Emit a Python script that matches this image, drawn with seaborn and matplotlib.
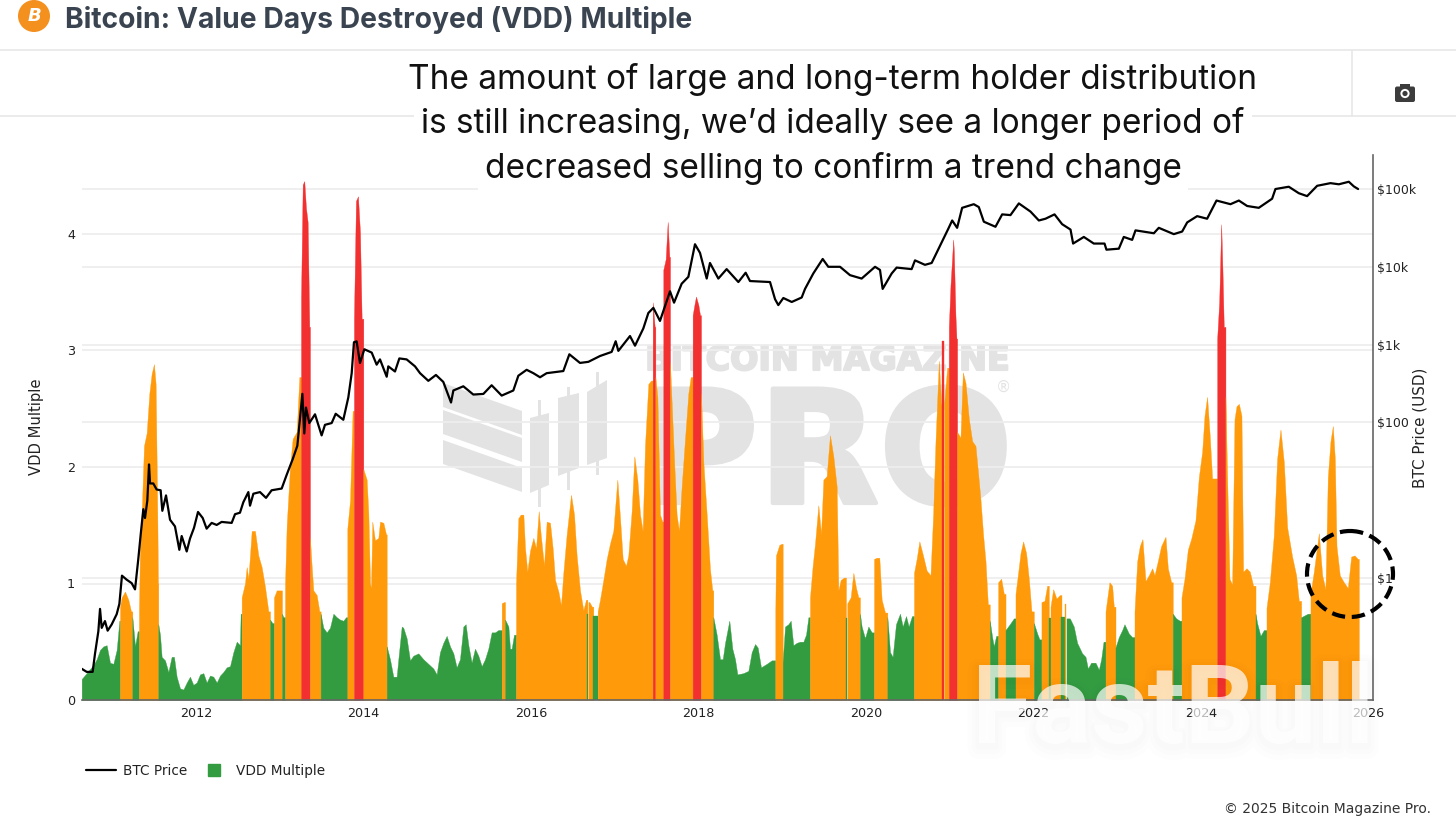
import numpy as np
import seaborn as sns
import matplotlib
matplotlib.use("Agg")
import matplotlib.pyplot as plt
import matplotlib.patheffects as pe
from matplotlib.lines import Line2D
from matplotlib.patches import Circle, Ellipse, Polygon, Rectangle, FancyBboxPatch

# ---------- data ----------
vdd_years = [
 2010.635,2010.774,2010.814,2010.854,2010.894,2010.933,2010.973,2011.013,2011.053,2011.085,
 2011.093,2011.112,2011.152,2011.192,2011.224,2011.240,2011.272,2011.303,2011.319,2011.331,
 2011.351,2011.379,2011.411,2011.443,2011.471,2011.498,2011.518,2011.538,2011.546,2011.550,
 2011.570,2011.590,2011.630,2011.670,2011.709,2011.737,2011.769,2011.809,2011.849,2011.889,
 2011.928,2011.968,2012.008,2012.048,2012.088,2012.127,2012.167,2012.207,2012.247,2012.287,
 2012.326,2012.366,2012.406,2012.446,2012.486,2012.525,2012.533,2012.545,2012.585,2012.605,
 2012.625,2012.665,2012.704,2012.744,2012.784,2012.824,2012.864,2012.884,2012.911,2012.931,
 2012.963,2013.003,2013.027,2013.043,2013.063,2013.083,2013.102,2013.122,2013.154,2013.202,
 2013.234,2013.254,2013.274,2013.293,2013.313,2013.333,2013.353,2013.361,2013.381,2013.401,
 2013.441,2013.473,2013.488,2013.520,2013.560,2013.600,2013.640,2013.680,2013.719,2013.759,
 2013.791,2013.807,2013.839,2013.870,2013.886,2013.910,2013.934,2013.958,2013.978,2013.998,
 2014.038,2014.058,2014.078,2014.090,2014.105,2014.137,2014.177,2014.197,2014.237,2014.269,
 2014.277,2014.316,2014.356,2014.396,2014.416,2014.456,2014.475,2014.515,2014.555,2014.595,
 2014.655,2014.714,2014.774,2014.834,2014.873,2014.913,2014.953,2014.993,2015.033,2015.073,
 2015.112,2015.152,2015.192,2015.220,2015.252,2015.291,2015.331,2015.371,2015.411,2015.451,
 2015.490,2015.530,2015.570,2015.610,
 2015.650,2015.678,2015.690,2015.730,2015.749,2015.769,2015.797,2015.821,2015.849,2015.877,
 2015.909,2015.929,2015.956,2015.988,2016.028,2016.060,2016.092,2016.116,2016.155,2016.187,
 2016.227,2016.259,2016.287,2016.327,2016.358,2016.386,2016.426,2016.478,2016.514,2016.545,
 2016.585,2016.625,2016.657,2016.673,2016.685,2016.697,2016.728,2016.744,2016.784,2016.796,
 2016.824,2016.864,2016.904,2016.943,2016.983,2017.031,2017.063,2017.095,2017.134,2017.162,
 2017.202,2017.234,2017.270,2017.302,2017.333,2017.361,2017.401,2017.433,2017.453,2017.477,
 2017.485,2017.509,2017.540,2017.568,2017.580,2017.608,2017.632,2017.652,2017.660,2017.680,
 2017.708,2017.739,2017.767,2017.799,2017.839,2017.879,2017.907,2017.930,2017.954,2017.970,
 2017.998,2018.018,2018.030,2018.058,2018.098,2018.137,2018.165,2018.177,2018.217,2018.257,
 2018.289,2018.317,2018.368,2018.404,2018.436,2018.464,2018.535,2018.595,2018.635,2018.675,
 2018.707,2018.746,2018.814,2018.874,2018.902,2018.917,2018.925,2018.965,2018.993,2019.005,
 2019.033,2019.073,2019.101,2019.132,2019.172,2019.212,2019.252,2019.284,2019.312,2019.331,
 2019.363,2019.391,2019.431,2019.463,2019.491,2019.530,2019.570,2019.610,2019.650,2019.670,
 2019.698,2019.737,2019.761,2019.777,2019.817,2019.849,2019.881,2019.909,2019.928,2019.948,
 2019.988,2020.028,2020.068,2020.096,2020.127,2020.159,2020.187,2020.227,2020.255,2020.287,
 2020.318,2020.358,2020.406,2020.438,2020.478,2020.509,2020.549,2020.573,2020.605,2020.637,
 2020.677,2020.724,2020.770,
 2020.802,2020.830,2020.870,2020.897,2020.913,2020.933,2020.969,2020.989,2021.009,2021.029,
 2021.041,2021.049,2021.068,2021.080,2021.088,2021.128,2021.156,2021.188,2021.228,2021.268,
 2021.307,2021.339,2021.367,2021.399,2021.427,2021.455,2021.478,2021.506,2021.526,2021.554,
 2021.578,2021.614,2021.646,2021.666,2021.717,2021.765,2021.785,2021.813,2021.845,2021.876,
 2021.912,2021.944,2021.976,2022.004,2022.044,2022.071,2022.095,2022.131,2022.163,2022.183,
 2022.203,2022.235,2022.274,2022.314,2022.334,2022.374,2022.394,2022.434,2022.481,2022.521,
 2022.581,2022.621,2022.649,2022.688,2022.740,2022.780,2022.808,2022.836,2022.860,2022.907,
 2022.939,2022.959,2022.979,2023.019,2023.059,2023.086,2023.138,2023.178,2023.206,2023.238,
 2023.269,2023.301,2023.337,2023.377,2023.417,2023.445,2023.484,2023.524,2023.576,2023.604,
 2023.644,2023.663,2023.703,2023.747,2023.767,2023.803,2023.843,2023.882,2023.934,2023.974,
 2024.014,2024.042,2024.073,2024.105,2024.133,2024.173,2024.193,2024.217,2024.241,2024.256,
 2024.272,2024.292,2024.312,2024.340,2024.372,2024.400,2024.424,2024.452,2024.483,2024.503,
 2024.543,2024.583,2024.623,2024.651,2024.670,2024.710,2024.750,2024.782,2024.822,2024.869,
 2024.909,2024.949,2024.989,2025.029,2025.088,2025.136,2025.168,2025.196,2025.248,2025.275,
 2025.307,2025.347,2025.407,2025.447,2025.486,2025.514,2025.546,2025.574,2025.598,2025.618,
 2025.657,2025.705,2025.753,2025.793,2025.833,2025.872,
]
vdd_values = [
 .18,.30,.35,.43,.46,.47,.32,.31,.43,.68,
 .80,.88,.93,.86,.76,.71,.46,.59,.77,1.30,
 1.60,2.18,2.29,2.63,2.80,2.88,2.71,1.60,1.00,.65,
 .56,.37,.34,.24,.37,.37,.20,.10,.09,.15,
 .20,.13,.15,.22,.23,.15,.21,.20,.15,.21,
 .24,.28,.29,.41,.50,.47,.74,.88,1.00,1.14,
 1.04,1.45,1.45,1.24,1.14,.97,.76,.69,.66,.88,
 .94,.94,.74,.71,1.00,1.50,1.74,2.00,2.24,2.30,
 2.77,3.45,4.42,4.45,4.22,4.10,3.20,1.39,1.15,.94,
 .90,.76,.74,.62,.58,.62,.74,.71,.69,.68,
 .71,1.47,1.71,2.48,3.27,4.28,4.32,4.01,3.27,1.98,
 1.89,1.60,1.00,.96,1.53,1.37,1.39,1.53,1.52,1.42,
 .46,.35,.20,.20,.35,.63,.62,.53,.34,.38,
 .40,.35,.31,.27,.22,.41,.49,.55,.46,.40,
 .28,.35,.63,.65,.47,.32,.44,.38,.29,.35,
 .44,.58,.58,.60,
 .83,.84,.69,.63,.44,.44,.56,1.00,1.56,1.59,
 1.59,1.30,1.10,1.28,1.39,1.30,1.62,1.42,1.15,1.53,
 1.52,1.30,1.03,.93,.81,1.09,1.42,1.76,1.59,1.24,
 .94,.77,.86,.74,.84,.84,.80,.72,.72,.76,
 .86,1.03,1.21,1.34,1.45,1.89,1.56,1.21,1.15,1.24,
 1.62,2.09,1.89,1.59,1.45,2.18,2.71,2.74,3.41,3.20,
 2.77,2.60,1.59,1.53,3.69,3.78,4.10,3.80,2.89,2.54,
 2.06,1.59,1.45,1.83,2.24,2.63,2.77,3.30,3.40,3.46,
 3.39,3.30,2.63,2.04,1.59,1.12,.94,.71,.56,.35,
 .35,.49,.68,.44,.35,.22,.23,.25,.41,.48,
 .45,.28,.31,.34,.34,.76,1.24,1.33,1.34,.32,
 .63,.65,.68,.47,.49,.50,.50,.56,.71,.88,
 1.15,1.34,1.67,1.42,1.89,1.92,2.27,2.09,1.83,.94,
 1.03,1.05,.70,.83,.88,1.09,.96,.88,.74,.63,
 .53,.63,.58,1.21,1.22,1.22,.86,.75,.71,.41,
 .37,.65,.74,.63,.72,.63,.72,1.09,1.21,1.36,
 1.25,1.11,1.07,
 1.60,2.22,2.91,2.54,3.08,2.54,2.85,3.20,3.56,3.80,
 3.95,3.85,3.30,3.10,2.30,2.25,2.81,2.72,2.41,2.22,
 2.18,1.94,1.72,1.41,1.19,.82,.68,.54,.46,.55,
 1.01,1.04,.91,.60,.65,.70,.91,1.07,1.26,1.36,
 1.26,1.04,.76,.66,.57,.52,.84,.85,.98,.70,
 .80,.95,.87,.90,.71,.82,.70,.70,.63,.49,
 .40,.37,.27,.32,.32,.26,.35,.50,.76,1.01,
 .98,.80,.45,.54,.60,.65,.57,.54,.76,1.19,
 1.32,1.38,1.02,1.07,1.13,1.07,1.19,1.32,1.40,1.13,
 1.01,.74,.70,.68,.88,1.04,1.29,1.38,1.54,1.91,
 2.13,2.44,2.60,2.26,1.90,1.90,3.10,3.41,4.08,3.70,
 3.20,2.60,1.91,1.04,.99,2.41,2.52,2.54,2.44,1.10,
 1.13,1.10,.98,.74,.66,.55,.60,.79,1.01,1.41,
 2.07,2.32,2.04,1.48,1.23,1.07,.85,.71,.73,.74,
 .91,1.10,1.43,1.07,.95,1.91,2.22,2.35,2.07,1.32,
 1.07,1.01,.96,1.23,1.24,1.21,
]
vdd_end_year = 2025.885
zone_limits = [0.75, 2.95]

price_years = [
 2010.635,2010.695,2010.766,2010.794,2010.834,2010.854,2010.874,2010.913,2010.945,2010.993,
 2011.053,2011.085,2011.116,2011.172,2011.232,2011.272,2011.311,2011.339,2011.371,2011.391,
 2011.419,2011.439,2011.451,2011.490,2011.530,2011.578,2011.598,2011.642,2011.690,2011.749,
 2011.801,2011.829,2011.889,2011.928,2011.976,2012.024,2012.080,2012.127,2012.187,2012.247,
 2012.306,2012.426,2012.466,2012.525,2012.565,2012.625,2012.645,2012.685,2012.764,2012.836,
 2012.903,2013.023,2013.083,2013.154,2013.210,2013.242,2013.270,2013.293,2013.313,2013.353,
 2013.421,2013.500,2013.540,2013.620,2013.668,2013.759,2013.819,2013.859,2013.886,2013.918,
 2013.958,2014.010,2014.098,2014.157,2014.197,2014.277,2014.296,2014.376,2014.428,2014.515,
 2014.615,2014.675,2014.774,2014.865,2014.953,2015.045,2015.073,2015.192,2015.311,2015.431,
 2015.530,2015.650,2015.789,2015.849,
 2015.948,2016.028,2016.108,2016.187,2016.386,2016.458,2016.585,2016.685,2016.824,2016.963,
 2017.011,2017.043,2017.182,2017.242,2017.341,2017.401,2017.461,2017.540,2017.600,2017.660,
 2017.708,2017.799,2017.879,2017.958,2018.018,2018.098,2018.137,2018.237,2018.336,2018.476,
 2018.563,2018.615,2018.854,2018.914,2018.953,2019.013,2019.113,2019.232,2019.272,2019.371,
 2019.483,2019.550,2019.690,2019.809,2019.948,2020.108,2020.167,2020.199,2020.307,2020.366,
 2020.545,2020.585,2020.704,2020.784,2020.884,2020.983,
 2021.029,2021.088,2021.148,2021.287,2021.347,2021.407,2021.546,2021.626,2021.725,2021.825,
 2021.964,2022.064,2022.143,2022.251,2022.342,2022.442,2022.473,2022.601,2022.720,2022.848,
 2022.871,2023.019,2023.078,2023.178,2023.218,2023.437,2023.496,2023.675,2023.775,2023.835,
 2023.954,2024.073,2024.185,2024.352,2024.452,2024.551,2024.690,2024.849,2024.889,2025.048,
 2025.168,2025.267,2025.387,2025.546,2025.646,2025.765,2025.825,2025.876,
]
price_values = [
 .068,.062,.062,.106,.206,.40,.228,.279,.21,.252,
 .342,.464,1.07,.95,.857,.713,1.75,3.56,7.66,5.9,
 9.9,28.8,16.4,16.4,13.7,13.4,7.3,11.5,5.6,4.6,
 2.3,3.46,2.19,3.2,4.4,7.05,5.9,4.3,5.1,4.8,
 5.25,5.1,6.6,6.9,9.4,12.7,8.5,12.1,12.7,10.7,
 13.4,14.1,21.2,33.5,50,114,233,72,155,98,
 127,68,93,98,129,108,210,429,1072,1100,
 580,871,789,552,645,386,525,451,664,645,
 525,429,342,407,331,180,257,291,228,232,
 300,221,257,398,
 474,429,380,429,457,750,581,600,713,805,
 1104,830,1288,968,1611,2547,2966,2014,3126,4840,
 3459,6060,7430,19500,15100,7060,11200,7060,9340,6370,
 8390,6560,6370,3830,3220,3970,3530,4030,5200,8220,
 12600,10000,10000,7810,7060,10000,9120,5200,8220,9770,
 9340,12100,10600,11200,18600,30900,
 39400,31700,57300,63800,58600,38000,32700,47200,46200,65300,
 51300,39400,41500,47200,35300,30100,19900,24200,19900,19900,
 16600,17100,24200,22200,29400,27000,31700,26300,28400,37200,
 44800,41500,71100,63800,71100,60500,57300,75000,100000,107000,
 88300,81000,110000,119000,115000,124000,108000,100000,
]
year_ticks = [2012, 2014, 2016, 2018, 2020, 2022, 2024, 2026]
vdd_ticks = [0, 1, 2, 3, 4]
price_ticks = [1, 100, 1000, 10000, 100000]
price_tick_labels = ["$1", "$100", "$1k", "$10k", "$100k"]
title_text = "Bitcoin: Value Days Destroyed (VDD) Multiple"
note_lines = ["The amount of large and long-term holder distribution",
              "is still increasing, we\u2019d ideally see a longer period of",
              "decreased selling to confirm a trend change"]

# ---------- style ----------
GREEN, ORANGE, RED = "#339c41", "#ff9a0b", "#f2302f"
GRID = "#eeeeee"
sns.set_theme(style="white")
plt.rcParams["font.family"] = ["DejaVu Sans"]

W, H = 1456, 819
fig = plt.figure(figsize=(W / 100, H / 100), dpi=100, facecolor="white")
L, R, T, B = 82, 1373, 155, 700
rect = [L / W, 1 - B / H, (R - L) / W, (B - T) / H]

# background overlay: page furniture + watermark
bg = fig.add_axes([0, 0, 1, 1], zorder=0)
bg.set_xlim(0, W); bg.set_ylim(H, 0); bg.axis("off")
WM = "#e3e3e3"
for y0 in (383, 410, 440):
    bg.add_patch(Polygon([(443, y0), (522, y0 + 28), (522, y0 + 52), (443, y0 + 24)], fc=WM, ec="none"))
for x_l, x_r, t_l, t_r, b_l, b_r, wick_x, wick_t, wick_b in [
        (530, 549, 418, 413, 493, 485, 539, 400, 507),
        (558, 579, 398, 393, 476, 468, 568, 387, 490),
        (587, 607, 392, 380, 465, 458, 597, 372, 475)]:
    bg.add_patch(Polygon([(x_l, t_l), (x_r, t_r), (x_r, b_r), (x_l, b_l)], fc=WM, ec="none"))
    bg.add_patch(Rectangle((wick_x - 1.5, wick_t), 3, wick_b - wick_t, fc=WM, ec="none"))
bold_wm = [pe.withStroke(linewidth=1.5, foreground=WM)]
bg.text(828, 370, "BITCOIN MAGAZINE", fontsize=24, fontweight="bold", color=WM, ha="center",
        va="baseline", path_effects=bold_wm)
bg.text(828, 503, "PRO", fontsize=113, fontweight="bold", color=WM, ha="center", va="baseline",
        path_effects=[pe.withStroke(linewidth=3, foreground=WM)])
bg.text(1003, 387, "\u00ae", fontsize=11, color=WM, ha="center", va="center")
# header rules
bg.plot([0, W], [50, 50], color="#e8e8e8", lw=1.2)
bg.plot([0, 1352], [116, 116], color="#e8e8e8", lw=1.2)
bg.plot([1456, 1352, 1352], [116, 116, 50], color="#e8e8e8", lw=1.2)

# grid sits below the bars
axg = fig.add_axes(rect, zorder=1)
axg.patch.set_alpha(0)
axg.set_yscale("log")
axg.set_ylim(10 ** ((578 - B) / 77.75), 10 ** (5 + (189 - T) / 77.75))
axg.set_yticks(price_ticks); axg.minorticks_off()
axg.set_xticks([]); axg.set_yticklabels([])
axg.tick_params(length=0)
axg.grid(True, axis="y", color=GRID, lw=1.3)
axg.set_axisbelow(True)
for s in axg.spines.values():
    s.set_visible(False)

# VDD area, one filled run for each colour zone
ax = fig.add_axes(rect, zorder=2)
ax.patch.set_alpha(0)
xs = np.array(vdd_years + [vdd_end_year])
vals = np.array(vdd_values)
zones = np.digitize(vals, zone_limits)
zone_colors = [GREEN, ORANGE, RED]
breaks = np.flatnonzero(np.diff(zones)) + 1
starts = np.r_[0, breaks]
stops = np.r_[breaks, len(vals)]
for a, b in zip(starts, stops):
    ax.fill_between(xs[a:b + 1], np.r_[vals[a:b], vals[b - 1]], 0, color=zone_colors[zones[a]],
                    linewidth=0.25)
x0 = 2012 + (L - 196) / 83.75
x1 = 2012 + (R - 196) / 83.75
ax.set_xlim(x0, x1)
ax.set_ylim(0, (B - T) / 116.6)
ax.set_xticks(year_ticks); ax.set_xticklabels([str(y) for y in year_ticks])
ax.set_yticks(vdd_ticks)
ax.tick_params(axis="both", length=0, labelsize=9.2, labelcolor="#222222", pad=5)
ax.grid(False)
for s in ("top", "left", "right"):
    ax.spines[s].set_visible(False)
ax.spines["bottom"].set_color("#666666"); ax.spines["bottom"].set_linewidth(1.2)
for y in vdd_ticks[1:]:
    axg.plot([0, 1], [10 ** (y * 1.5 - 1.572)] * 2, transform=axg.get_yaxis_transform(), color=GRID, lw=1.3)
axg.set_xlim(0, 1)

# price line on the right axis
ax2 = ax.twinx()
ax2.set_zorder(3); ax2.patch.set_alpha(0)
sns.lineplot(x=price_years, y=price_values, color="#000000", lw=1.6, estimator=None, sort=False,
             legend=False, ax=ax2)
ax2.set_yscale("log")
ax2.set_ylim(axg.get_ylim())
ax2.set_xlim(x0, x1)
ax2.set_yticks(price_ticks); ax2.set_yticklabels(price_tick_labels)
ax2.minorticks_off()
ax2.tick_params(axis="y", length=0, labelsize=9, labelcolor="#222222", pad=3)
ax2.grid(False); ax2.set_ylabel("")
for s in ("top", "left", "bottom"):
    ax2.spines[s].set_visible(False)
ax2.spines["right"].set_color("#666666"); ax2.spines["right"].set_linewidth(1.2)

# top overlay: text, note, logo, circle, watermark, legend
top = fig.add_axes([0, 0, 1, 1], zorder=5)
top.set_xlim(0, W); top.set_ylim(H, 0); top.axis("off"); top.patch.set_alpha(0)
top.add_patch(Circle((34, 16), 16, fc="#f4901e", ec="none"))
top.text(34, 16, "B", color="white", fontsize=13, fontweight="bold", style="italic", ha="center", va="center")
top.text(65, 19.5, title_text, fontsize=20.35, fontweight="bold", color="#3a4450", family="Inter",
         ha="left", va="center")
for (y, line) in zip((79.5, 123.5, 168.5), note_lines):
    top.text(833, y, line, fontsize=24, color="#111111", family="Inter", ha="center", va="center",
             bbox=dict(fc="white", ec="none", pad=5))
# camera icon
CAM = "#3c3c3c"
top.add_patch(FancyBboxPatch((1395, 86.5), 20, 15.5, boxstyle="round,pad=0,rounding_size=2", fc=CAM, ec="none"))
top.add_patch(Rectangle((1400, 83.5), 10, 4, fc=CAM, ec="none"))
top.add_patch(Circle((1405, 93.5), 4.6, fc="white", ec="none"))
top.add_patch(Circle((1405, 93.5), 2.6, fc=CAM, ec="none"))
# labels
top.text(37, 427, "VDD Multiple", rotation=90, fontsize=10.6, color="#222222", ha="center", va="center")
top.text(1420, 428, "BTC Price (USD)", rotation=90, fontsize=10.9, color="#222222", ha="center", va="center")
top.text(1431, 809, "\u00a9 2025 Bitcoin Magazine Pro.", fontsize=10, color="#333333", ha="right", va="center")
# dashed highlight circle
top.add_patch(Ellipse((1350, 574), 86, 86, fc="none", ec="black", lw=3, ls=(0, (3.2, 1.6))))
# FastBull watermark with a soft shadow
for lw_s, dy in [(16, 5), (10, 4), (5, 3)]:
    top.text(1173, 743 + dy, "FastBull", fontsize=79, fontweight="bold", color=(0, 0, 0, 0.0),
             family="Roboto", ha="center", va="baseline",
             path_effects=[pe.Stroke(linewidth=lw_s, foreground=(0, 0, 0, 0.008))])
top.text(1173, 743, "FastBull", fontsize=79, fontweight="bold", color="white", alpha=0.7,
         family="Roboto", ha="center", va="baseline")
# legend
handles = [Line2D([], [], color="black", lw=1.6, label="BTC Price"),
           Line2D([], [], marker="s", ls="none", ms=8.6, color=GREEN, label="VDD Multiple")]
fig.legend(handles=handles, loc="center left", bbox_to_anchor=(74 / W, 1 - 771 / H), ncol=2, frameon=False,
           fontsize=9.8, handlelength=2.2, handletextpad=0.5, columnspacing=0.85, labelcolor="#222222")

fig.savefig("out.png", dpi=100)
